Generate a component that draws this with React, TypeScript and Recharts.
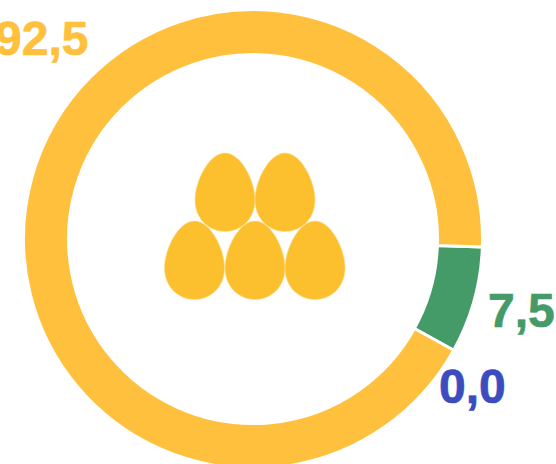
import { PieChart, Pie, Cell } from "recharts";

const names = ["green", "blue", "yellow"];
const values = [7.5, 0.0, 92.5];
const colors = ["#459B68", "#3A4CBF", "#FFC13D"];

// label spots, relative to the ring centre
const labelOffsets = [
  { dx: 235, dy: 88 },
  { dx: 186, dy: 164 },
  { dx: -258, dy: -184 },
];

const eggCentres = [
  { x: 225, y: 153 },
  { x: 285, y: 153 },
  { x: 194.5, y: 221 },
  { x: 255, y: 221 },
  { x: 315, y: 221 },
];

const data = names.map((name, i) => ({ name, value: values[i] }));

const renderLabel = ({ cx, cy, index, value }: any) => {
  const pos = labelOffsets[index];
  return (
    <text
      key={index}
      x={cx + pos.dx}
      y={cy + pos.dy}
      fill={colors[index]}
      stroke={colors[index]}
      strokeWidth={0.7}
      fontFamily="Liberation Sans"
      fontWeight="bold"
      fontSize={48}
      textAnchor="start"
    >
      {value.toFixed(1).replace(".", ",")}
    </text>
  );
};

const Egg = ({ x, y }: { x: number; y: number }) => (
  <path
    transform={`translate(${x} ${y})`}
    d="M0 0 C16 0 30 28 30 47 C30 66 16 78.5 0 78.5 C-16 78.5 -30 66 -30 47 C-30 28 -16 0 0 0 Z"
    fill="#FCC02F"
    stroke="#FDDC8A"
    strokeWidth={0.6}
  />
);

const App = () => {
  return (
    <div style={{ position: "fixed", left: 0, top: 0, width: 556, height: 464, overflow: "hidden", background: "#fff" }}>
      <PieChart width={556} height={464} margin={{ top: 0, right: 0, bottom: 0, left: 0 }}>
        <Pie
          data={data}
          dataKey="value"
          cx={253}
          cy={239}
          innerRadius={184.5}
          outerRadius={229.5}
          startAngle={-2}
          endAngle={-362}
          stroke="#fff"
          strokeWidth={3}
          label={renderLabel}
          labelLine={false}
          isAnimationActive={false}
        >
          {names.map((name, i) => (
            <Cell key={name} fill={colors[i]} />
          ))}
        </Pie>
        <g>
          {eggCentres.map((e, i) => (
            <Egg key={i} x={e.x} y={e.y} />
          ))}
        </g>
      </PieChart>
    </div>
  );
};

export default App;
